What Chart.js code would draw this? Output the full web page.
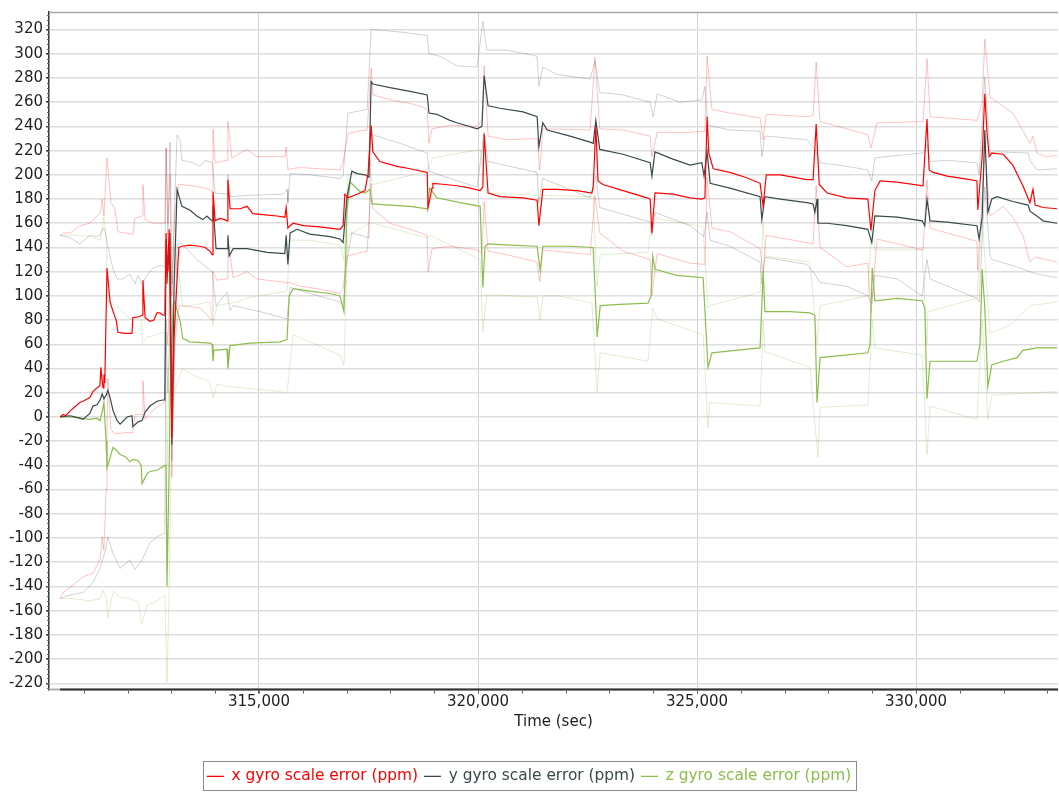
<!DOCTYPE html>
<html><head><meta charset="utf-8">
<script src="https://cdn.jsdelivr.net/npm/chart.js@4.4.1/dist/chart.umd.min.js"></script>
<style>html,body{margin:0;padding:0;background:#fff}#wrap{width:1059px;height:794px}</style>
</head><body><div id="wrap"><canvas id="c" width="1059" height="794"></canvas></div>
<script>
// ---- data: [time (sec), ppm] ----
const xMain = [[310460,0],[310530,2],[310590,1],[310690,5],[310910,12],[310980,13],[311140,16],[311210,21],[311300,24],[311370,26],[311390,41],[311420,30],[311440,24],[311460,35],[311480,28],[311530,123],
[311600,95],[311670,87],[311740,80],[311780,70],[311940,69],[312100,69],[312120,82],[312280,83],[312330,84],[312350,113],[312400,82],[312510,79],[312600,80],[312670,86],[312740,86],[312810,84],[312850,84],
[312880,152],[312900,110],[312950,155],[313010,-17],[313060,65],[313130,114],[313170,140],
[313240,141],[313420,142],[313650,141],[313770,140],[313880,137],[313930,134],[313950,186],[314000,162],[314110,164],[314220,163],[314270,162],[314290,196],[314340,172],[314410,172],[314570,172],[314730,174],[314860,168],[315140,167],[315410,166],[315590,165],[315620,173],[315660,156],[315710,158],
[315780,160],[316010,158],[316390,157],[316620,156],[316850,155],[316920,158],
[316960,184],[317030,181],[317240,184],[317420,187],[317490,201],[317560,241],
[317600,219],[317760,211],[318150,207],[318450,205],[318840,202],
[318860,173],[318950,189],[318970,193],[319250,192],[319520,191],[319820,189],[320050,187],[320110,190],
[320140,234],[320230,185],[320500,182],[321030,181],[321350,179],[321390,158],
[321480,188],[321800,188],[322260,187],[322600,185],[322630,190],[322690,240],
[322740,195],[322850,192],[323310,187],[323860,181],[323930,180],[323970,152],
[324040,185],[324450,184],[324840,181],[325110,180],[325180,181],[325230,248],
[325270,218],[325370,205],[325750,202],[326100,198],[326440,193],[326510,174],
[326580,200],[326900,200],[327510,196],[327650,196],[327720,242],
[327790,192],[327970,185],[328420,181],[328900,180],[328970,154],
[329060,187],[329180,195],[329570,194],[330160,191],[330250,246],
[330300,204],[330390,202],[330710,199],[331230,196],[331390,195],[331410,171],
[331510,215],[331570,267],[331620,235],[331670,215],[331730,218],[331990,217],[332210,208],[332440,191],[332600,177],[332670,188],[332720,175],[332900,173],[333220,172]];

const xUpper = [[310460,150],[310530,152],[310690,152],[310910,158],[311140,160],[311300,166],[311370,168],[311420,180],[311460,166],[311530,214],
[311620,177],[311710,172],[311780,153],[311940,152],[312120,151],[312170,164],[312330,166],[312350,192],[312400,163],[312580,160],[312810,160],[312850,160],
[312880,222],[312920,160],[312970,200],[313010,100],[313080,170],[313170,192],
[313240,192],[313650,190],[313880,188],[313930,186],[313950,238],[314000,210],[314270,212],[314290,244],[314380,214],[314570,218],[314730,221],[314950,215],[315590,215],[315620,223],[315660,204],
[315710,205],[315940,206],[316390,205],[316850,204],[316920,210],
[317030,234],[317240,236],[317470,237],[317560,288],
[317600,266],[317990,262],[318450,259],[318740,256],[318840,254],
[318880,226],[318950,238],[319360,241],[319980,240],[320090,245],[320140,290],
[320230,232],[320660,229],[321350,230],[321410,204],
[321480,238],[322560,237],[322670,297],
[322780,238],[323310,237],[323930,232],[323970,215],
[324090,235],[324840,235],[325180,236],[325230,298],
[325340,254],[325750,251],[326440,247],[326510,229],
[326580,250],[327510,248],[327650,249],[327720,293],
[327810,244],[328420,238],[328900,233],[328970,222],
[329110,243],[330160,244],[330250,296],
[330320,248],[331390,245],[331510,260],[331570,312],
[331690,264],[331850,260],[332210,251],[332600,226],[332670,232],[332760,218],[332990,215],[333220,216]];

const xLower = [[310460,-150],[310530,-145],[310750,-139],[310980,-132],[311210,-129],[311370,-118],[311420,-99],[311460,-110],[311510,-60],[311530,-14],[311550,32],[311620,-10],[311710,-14],[311940,-13],[312120,-13],[312170,2],[312330,2],[312350,30],[312400,-2],[312510,3],[312670,8],[312850,12],
[312880,80],[312920,60],[312970,110],[313010,-50],[313080,60],[313170,92],
[313240,92],[313650,90],[313880,82],[313930,80],[313950,120],[314040,113],[314270,114],[314290,148],[314410,115],[314730,120],[314950,114],[315640,111],
[315710,111],[315940,108],[316320,106],[316850,102],[316920,106],
[317010,133],[317470,137],[317560,193],
[317600,172],[317990,160],[318450,155],[318840,150],
[318860,120],[318950,139],[319360,141],[319980,138],[320090,135],[320140,178],
[320230,137],[320660,134],[321350,128],[321410,112],
[321480,138],[322560,134],[322670,183],
[322780,152],[323310,137],[323930,130],[323970,100],
[324090,135],[324840,127],[325180,126],[325230,198],
[325340,156],[325750,153],[326440,139],[326510,119],
[326580,150],[327510,144],[327650,143],[327720,191],
[327810,140],[328420,124],[328900,127],[328970,86],
[329110,147],[330160,138],[330250,196],
[330320,156],[331390,145],[331410,121],
[331570,222],[331690,166],[331990,174],[332210,165],[332440,150],[332600,128],[332720,132],[332990,130],[333220,128]];

const yMain = [[310460,0],[310690,1],[310910,-1],[310980,-2],[311140,3],[311210,9],[311300,10],[311370,14],[311420,19],[311460,15],
[311510,18],[311550,22],[311600,16],[311670,5],[311760,-3],[311830,-6],[311990,0],[312100,1],[312120,-8],[312240,-4],[312330,-3],[312400,4],[312510,9],[312670,13],[312810,14],[312850,14],
[312880,147],[312920,120],[312970,152],[313010,-23],[313060,106],[313130,188],
[313240,174],[313420,171],[313580,166],[313720,163],[313810,166],[313930,162],[313950,174],[314020,139],[314110,139],[314270,139],[314290,150],[314320,133],[314410,139],[314730,139],[315180,136],[315590,135],[315620,150],[315660,126],
[315710,152],[315870,155],[316160,151],[316620,149],[316850,147],[316920,144],
[317010,182],[317120,203],[317240,201],[317420,200],[317510,198],[317560,277],
[317600,275],[317990,272],[318450,269],[318840,266],
[318880,251],[319060,250],[319360,245],[319520,243],[319980,238],[320090,240],[320140,282],
[320230,257],[320500,255],[321030,252],[321350,248],[321390,223],
[321480,243],[321580,237],[322100,232],[322560,227],[322630,226],[322690,245],
[322780,221],[323310,217],[323930,210],[323970,199],
[324040,219],[324450,213],[324840,208],[325110,210],[325160,199],[325230,219],
[325300,193],[325750,189],[326440,182],[326480,163],
[326550,182],[326900,180],[327510,177],[327650,176],[327690,169],[327740,180],[327760,160],
[327970,160],[328420,158],[328900,155],[328990,144],
[329060,166],[329570,165],[330140,162],[330200,158],[330250,180],
[330320,162],[330710,161],[331390,158],[331440,147],
[331510,165],[331570,237],[331640,169],[331730,180],[331850,182],[332210,178],[332560,175],[332600,170],[332760,166],[332900,162],[333220,160]];

const yUpper = [[310460,150],[310690,148],[310910,143],[311140,150],[311300,149],[311370,150],[311440,156],[311480,155],
[311550,141],[311670,122],[311760,114],[311900,114],[312050,118],[312170,110],[312240,117],[312330,109],[312440,117],[312580,123],[312740,125],[312850,124],
[312880,222],[312920,150],[312970,227],[313010,110],[313130,233],
[313200,229],[313240,212],[313490,210],[313650,207],[313770,212],[313930,210],[314000,185],[314270,184],[314290,200],[314340,182],[314730,183],[315550,184],[315640,188],[315660,177],
[315710,201],[316160,200],[316850,197],[316920,199],
[317030,251],[317470,254],[317560,320],
[317600,320],[318220,318],[318840,315],
[318880,300],[319130,298],[319520,290],[319980,289],[320110,327],
[320200,303],[320660,303],[321350,298],[321390,273],
[321480,289],[321800,283],[322560,279],[322670,294],
[322780,268],[323310,266],[323930,260],[324000,248],
[324090,267],[324610,260],[325110,262],[325180,273],
[325250,241],[325370,240],[325750,237],[326440,236],[326480,215],
[326550,232],[326900,231],[327510,229],[327690,221],
[327810,210],[328420,207],[328900,204],[328990,195],
[329060,214],[329570,216],[330160,218],[330250,225],
[330320,211],[330710,212],[331390,210],[331440,200],
[331570,281],[331690,218],[331850,219],[332560,218],[332600,212],[332760,204],[333220,205]];

const yLower = [[310460,-150],[310690,-147],[310980,-145],[311210,-137],[311370,-125],[311440,-117],[311510,-108],
[311550,-99],[311670,-113],[311830,-125],[312050,-118],[312170,-126],[312330,-118],[312510,-104],[312670,-99],[312850,-96],
[312880,70],[312920,20],[312970,80],[313010,-36],[313060,40],[313130,143],
[313240,143],[313580,130],[313930,120],[314020,92],[314270,103],[314340,88],[314410,92],[315020,87],[315640,81],
[315710,107],[316160,102],[316850,95],[316920,92],
[317010,130],[317120,152],[317510,148],[317560,232],
[317600,233],[318220,226],[318840,218],
[318880,203],[319520,195],[319980,190],[320140,235],
[320230,211],[321350,202],[321390,177],
[321480,197],[322560,181],[322690,199],
[322780,173],[323930,161],[323970,150],
[324040,169],[324840,158],[325160,149],[325230,169],
[325300,146],[325750,141],[326440,128],[326480,110],
[326550,132],[327510,126],[327690,118],
[327810,111],[328420,108],[328900,100],[328990,93],
[329060,117],[329570,114],[330140,100],[330250,130],
[330320,114],[331390,98],[331440,95],
[331570,190],[331690,133],[331730,130],[332210,125],[332760,118],[333220,115]];

const zMain = [[310460,0],[310690,0],[310910,-1],[311140,-2],[311300,-1],[311370,-3],[311420,4],[311460,12],
[311510,-20],[311530,-42],[311670,-25],[311760,-28],[311830,-31],[311960,-33],[312050,-37],[312120,-35],[312240,-36],[312310,-40],[312330,-55],[312440,-47],[312510,-45],[312670,-44],[312810,-41],[312850,-40],
[312880,-40],[312900,-140],[312950,-40],[312970,18],[313040,92],[313080,95],
[313200,79],[313260,65],[313420,62],[313880,61],[313930,60],[313950,46],[313970,55],[314270,56],[314290,40],[314340,59],[314800,61],[315480,62],[315640,64],
[315690,100],[315780,106],[316160,104],[316620,102],[316850,100],[316940,87],
[317010,170],[317080,194],[317310,186],[317420,185],[317530,188],
[317580,176],[317990,175],[318450,174],[318840,172],
[318900,189],[319060,181],[319590,177],[320050,174],[320110,107],
[320160,141],[320230,143],[320730,142],[321350,141],[321420,121],
[321480,141],[322100,141],[322630,140],[322720,66],
[322790,92],[323240,93],[323880,94],[323950,100],[323990,133],
[324040,122],[324540,117],[325140,115],[325250,41],
[325340,53],[325870,55],[326440,57],[326510,120],
[326550,87],[327120,87],[327580,86],[327690,84],[327740,12],
[327810,49],[328380,51],[328900,53],[328950,60],[329000,123],
[329060,96],[329570,98],[330140,96],[330200,90],[330250,15],
[330320,46],[330780,46],[331390,46],[331460,60],[331510,122],
[331570,90],[331640,25],[331730,43],[331990,46],[332310,49],[332440,55],[332760,57],[333220,57]];

const zUpper = [[310460,150],[310690,150],[310910,150],[311140,149],[311300,147],[311370,146],[311420,155],[311460,165],[311510,148],
[311550,95],[311600,95],[311710,92],[311900,87],[312050,81],[312220,82],[312310,80],[312350,61],[312440,66],[312580,67],[312810,70],[312850,70],
[312900,-40],[312970,70],[313060,140],[313100,131],[313200,110],[313260,91],
[313580,93],[313880,95],[313950,75],[314040,92],[314500,95],[314800,99],[315480,103],[315640,104],
[315710,146],[316160,146],[316850,142],[316940,130],
[317030,200],[317530,205],
[317600,192],[318840,203],
[318970,214],[320050,221],[320110,200],
[320200,185],[321350,183],[321420,170],
[321480,183],[322630,182],[322720,108],
[322790,134],[323880,136],[323990,170],
[324090,164],[325140,157],[325250,90],
[325300,92],[326440,103],[326510,160],
[326550,133],[327580,128],[327740,60],
[327810,92],[328900,100],[329000,165],
[329060,138],[330140,138],[330250,60],
[330270,87],[331390,98],[331510,164],
[331690,69],[332150,76],[332600,92],[333220,95]];

const zLower = [[310460,-150],[310690,-150],[310980,-151],[311140,-152],[311370,-150],[311440,-143],[311510,-150],
[311550,-166],[311670,-144],[311830,-149],[312050,-150],[312240,-153],[312330,-171],[312440,-156],[312670,-152],[312850,-147],
[312900,-219],[312950,-140],[313000,-20],[313060,20],[313200,35],[313260,40],
[313580,33],[313880,29],[313950,16],[314040,27],[314340,25],[315480,21],[315640,20],
[315780,68],[316160,62],[316850,51],[316940,43],
[317030,150],[317530,160],
[317600,160],[318840,148],
[318900,150],[320050,130],[320110,70],
[320200,101],[321350,99],[321420,80],
[321480,100],[321870,100],[322600,94],[322720,21],
[322790,53],[323880,46],[323990,90],
[324090,81],[325140,68],[325250,-9],
[325300,12],[326440,9],[326510,80],
[326550,54],[327580,41],[327760,-33],
[327810,8],[328900,10],[329000,80],
[329060,57],[330140,51],[330250,-31],
[330320,9],[331390,-2],[331510,80],
[331640,-2],[331730,18],[333220,21]];

const xTicks = [315000, 320000, 325000, 330000];
const yTicks = [-220,-200,-180,-160,-140,-120,-100,-80,-60,-40,-20,0,20,40,60,80,100,120,140,160,180,200,220,240,260,280,300,320];
const seriesNames = ['x gyro scale error (ppm)', 'y gyro scale error (ppm)', 'z gyro scale error (ppm)'];

const RED = '#ff0000', GRAY = '#38494b', GREEN = '#8cbd4c';
const RED_L = 'rgba(255,0,0,0.24)', GRAY_L = 'rgba(56,73,75,0.24)', GREEN_L = 'rgba(140,189,76,0.26)';
const pts = a => a.map(p => ({x: p[0], y: p[1]}));
const mainDs = (label, d, c) => ({label, data: pts(d), borderColor: c, backgroundColor: c, borderWidth: 1.2, pointRadius: 0, tension: 0, order: 0});
const bandDs = (label, d, c) => ({label, data: pts(d), borderColor: c, backgroundColor: c, borderWidth: 1, pointRadius: 0, tension: 0, order: 1});

Chart.defaults.font.family = 'DejaVu Sans';

const frame = {
  id: 'frame',
  beforeDatasetsDraw(chart) {
    const {ctx, chartArea: a} = chart;
    ctx.save();
    ctx.strokeStyle = '#a8a8a8'; ctx.lineWidth = 1.5;
    ctx.beginPath(); ctx.moveTo(a.left, a.top + 0.5); ctx.lineTo(a.right, a.top + 0.5); ctx.stroke();
    ctx.restore();
  },
  afterDraw(chart) {
    const {ctx, chartArea: a, scales: {x, y}} = chart;
    ctx.save();
    ctx.strokeStyle = '#b0b0b0'; ctx.lineWidth = 2;
    ctx.beginPath(); ctx.moveTo(a.left, a.bottom); ctx.lineTo(a.right, a.bottom); ctx.stroke();
    const x0 = x.getPixelForValue(xMain[0][0]);
    ctx.strokeStyle = '#333'; ctx.lineWidth = 2;
    ctx.beginPath(); ctx.moveTo(x0, a.bottom); ctx.lineTo(a.right, a.bottom); ctx.stroke();
    ctx.strokeStyle = '#666'; ctx.lineWidth = 1;
    for (let t = 311000; t <= 333000; t += 1000) {
      const px = Math.round(x.getPixelForValue(t)) + 0.5;
      ctx.beginPath(); ctx.moveTo(px, a.bottom + 1); ctx.lineTo(px, a.bottom + 4); ctx.stroke();
    }
    for (let v = -224; v <= 332; v += 4) {
      const py = Math.round(y.getPixelForValue(v)) + 0.5;
      ctx.beginPath(); ctx.moveTo(a.left - 2, py); ctx.lineTo(a.left, py); ctx.stroke();
    }
    const lg = chart.legend;
    if (lg && lg.legendHitBoxes && lg.legendHitBoxes.length) {
      const hb = lg.legendHitBoxes;
      const l = hb[0].left - 4, r = hb[hb.length - 1].left + hb[hb.length - 1].width + 5;
      const t = hb[0].top - 8, b = hb[0].top + hb[0].height + 6;
      ctx.strokeStyle = '#8a8a8a'; ctx.lineWidth = 1;
      ctx.strokeRect(Math.round(l) + 0.5, Math.round(t) + 0.5, Math.round(r - l), Math.round(b - t));
    }
    ctx.restore();
  }
};

new Chart(document.getElementById('c'), {
  type: 'line',
  data: {datasets: [
    mainDs(seriesNames[0], xMain, RED),
    mainDs(seriesNames[1], yMain, GRAY),
    mainDs(seriesNames[2], zMain, GREEN),
    bandDs('x upper', xUpper, RED_L), bandDs('x lower', xLower, RED_L),
    bandDs('y upper', yUpper, GRAY_L), bandDs('y lower', yLower, GRAY_L),
    bandDs('z upper', zUpper, GREEN_L), bandDs('z lower', zLower, GREEN_L)
  ]},
  options: {
    responsive: false, animation: false, parsing: false, normalized: true,
    layout: {padding: {left: 0, right: 1, top: 5, bottom: 0}},
    plugins: {
      tooltip: {enabled: false},
      legend: {
        position: 'bottom',
        labels: {
          font: {size: 15.4}, usePointStyle: true, pointStyle: 'line', pointStyleWidth: 17, padding: 6,
          filter: (item) => item.datasetIndex < 3,
          generateLabels(chart) {
            const items = Chart.defaults.plugins.legend.labels.generateLabels(chart);
            items.forEach(it => { const c = chart.data.datasets[it.datasetIndex].borderColor; it.fontColor = c; it.strokeStyle = c; it.lineWidth = 1.2; });
            return items;
          }
        }
      }
    },
    scales: {
      x: {
        type: 'linear', min: 310206, max: 333241,
        afterBuildTicks: s => { s.ticks = xTicks.map(v => ({value: v})); },
        afterFit: s => { s.height = 73; },
        ticks: {callback: v => v.toLocaleString('en-US'), font: {size: 15}, color: '#1e1e1e', maxRotation: 0, autoSkip: false, padding: 0},
        grid: {color: '#d2d2d2', lineWidth: 1, drawTicks: true, tickLength: 4, tickColor: '#555'},
        border: {display: false},
        title: {display: true, text: 'Time (sec)', font: {size: 15}, color: '#1e1e1e', padding: {top: 0, bottom: 31}}
      },
      y: {
        min: -225.2, max: 334.5,
        afterBuildTicks: s => { s.ticks = yTicks.map(v => ({value: v})); },
        afterFit: s => { s.width = 49; },
        ticks: {font: {size: 15}, color: '#1e1e1e', padding: 3, autoSkip: false},
        grid: {color: '#dedede', lineWidth: 1.6, drawTicks: true, tickLength: 3, tickColor: '#444'},
        border: {display: true, color: '#333', width: 1.5}
      }
    }
  },
  plugins: [frame]
});
</script></body></html>
